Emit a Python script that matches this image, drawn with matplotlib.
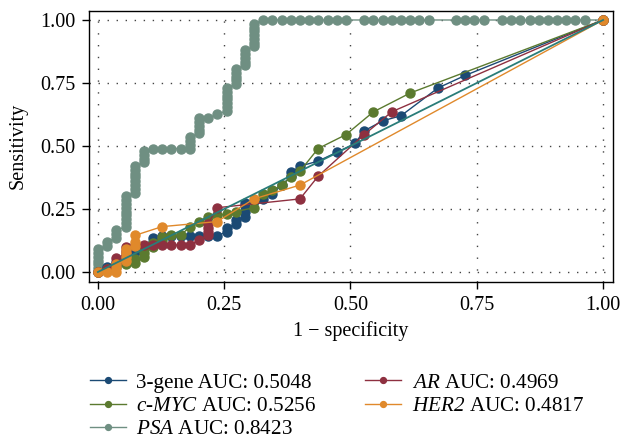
import numpy as np
import matplotlib
matplotlib.use("Agg")
import matplotlib.pyplot as plt

plt.rcParams['font.family'] = ['Liberation Serif', 'DejaVu Serif']
plt.rcParams['mathtext.fontset'] = 'custom'
plt.rcParams['mathtext.rm'] = 'Liberation Serif:italic'
plt.rcParams['mathtext.it'] = 'Liberation Serif:italic'

# ROC points (1 - specificity, sensitivity)
gene3_fpr = [0, 0.018, 0.036, 0.055, 0.073, 0.091, 0.109, 0.109, 0.127, 0.145, 0.164, 0.182,
             0.200, 0.218, 0.236, 0.255, 0.255, 0.273, 0.273, 0.291, 0.291, 0.291, 0.291,
             0.309, 0.327, 0.345, 0.364, 0.382, 0.382, 0.400, 0.436, 0.473, 0.509, 0.527,
             0.564, 0.600, 0.673, 0.727, 1.0]
gene3_tpr = [0, 0.02, 0.04, 0.06, 0.08, 0.10, 0.12, 0.135, 0.143, 0.143, 0.143, 0.143,
             0.143, 0.143, 0.143, 0.16, 0.175, 0.19, 0.205, 0.22, 0.24, 0.26, 0.275,
             0.28, 0.29, 0.31, 0.345, 0.38, 0.395, 0.42, 0.44, 0.475, 0.51, 0.56,
             0.60, 0.62, 0.73, 0.78, 1.0]

myc_fpr = [0, 0.018, 0.036, 0.055, 0.073, 0.073, 0.091, 0.091, 0.091, 0.109, 0.109,
           0.127, 0.127, 0.145, 0.164, 0.182, 0.200, 0.218, 0.236, 0.255, 0.273, 0.309,
           0.327, 0.345, 0.364, 0.382, 0.400, 0.436, 0.491, 0.545, 0.618, 1.0]
myc_tpr = [0, 0.01, 0.02, 0.03, 0.035, 0.05, 0.06, 0.075, 0.09, 0.10, 0.115,
           0.125, 0.14, 0.145, 0.145, 0.18, 0.20, 0.22, 0.225, 0.23, 0.24, 0.255,
           0.31, 0.325, 0.345, 0.375, 0.40, 0.49, 0.545, 0.635, 0.71, 1.0]

psa_fpr = [0, 0, 0, 0, 0, 0, 0,
           0.018, 0.018,
           0.036, 0.036, 0.036,
           0.055, 0.055, 0.055, 0.055, 0.055, 0.055, 0.055, 0.055, 0.055,
           0.073, 0.073, 0.073, 0.073, 0.073, 0.073, 0.073, 0.073,
           0.091, 0.091, 0.091, 0.091,
           0.109, 0.127, 0.145, 0.164,
           0.182, 0.182, 0.182, 0.182,
           0.200, 0.200, 0.200, 0.200, 0.200,
           0.218, 0.236,
           0.255, 0.255, 0.255, 0.255, 0.255, 0.255, 0.255,
           0.273, 0.273, 0.273, 0.273, 0.273,
           0.291, 0.291, 0.291, 0.291, 0.291,
           0.309, 0.309, 0.309, 0.309, 0.309, 0.309, 0.309,
           0.327, 0.345, 0.364, 0.382, 0.400, 0.418, 0.436, 0.455, 0.473, 0.491,
           0.527, 0.545, 0.564, 0.582, 0.600, 0.618, 0.636, 0.655,
           0.709, 0.727, 0.745, 0.764,
           0.800, 0.818, 0.836, 0.855, 0.873, 0.891, 0.909, 0.927, 0.945, 0.964,
           1.0]
psa_tpr = [0, 0.015, 0.03, 0.045, 0.06, 0.075, 0.09,
           0.105, 0.12,
           0.135, 0.15, 0.165,
           0.18, 0.195, 0.21, 0.225, 0.24, 0.255, 0.27, 0.285, 0.30,
           0.315, 0.33, 0.345, 0.36, 0.375, 0.39, 0.405, 0.42,
           0.435, 0.45, 0.465, 0.48,
           0.49, 0.49, 0.49, 0.49,
           0.49, 0.505, 0.52, 0.535,
           0.55, 0.565, 0.58, 0.595, 0.61,
           0.61, 0.625,
           0.64, 0.655, 0.67, 0.685, 0.70, 0.715, 0.73,
           0.745, 0.76, 0.775, 0.79, 0.805,
           0.82, 0.835, 0.85, 0.865, 0.88,
           0.895, 0.91, 0.925, 0.94, 0.955, 0.97, 0.985,
           1.0, 1.0, 1.0, 1.0, 1.0, 1.0, 1.0, 1.0, 1.0, 1.0,
           1.0, 1.0, 1.0, 1.0, 1.0, 1.0, 1.0, 1.0,
           1.0, 1.0, 1.0, 1.0,
           1.0, 1.0, 1.0, 1.0, 1.0, 1.0, 1.0, 1.0, 1.0, 1.0,
           1.0]

ar_fpr = [0, 0.018, 0.036, 0.036, 0.055, 0.055, 0.055, 0.073, 0.091, 0.109, 0.127, 0.145,
          0.164, 0.182, 0.200, 0.218, 0.218, 0.218, 0.218, 0.236, 0.400, 0.436, 0.527,
          0.582, 1.0]
ar_tpr = [0, 0.01, 0.03, 0.055, 0.07, 0.085, 0.10, 0.107, 0.107, 0.107, 0.107, 0.107,
          0.107, 0.107, 0.127, 0.145, 0.16, 0.175, 0.19, 0.255, 0.29, 0.38, 0.545,
          0.636, 1.0]

her2_fpr = [0, 0.018, 0.036, 0.036, 0.036, 0.055, 0.055, 0.055, 0.055, 0.073, 0.073, 0.073,
            0.127, 0.236, 0.309, 0.400, 1.0]
her2_tpr = [0, 0, 0, 0.015, 0.03, 0.045, 0.06, 0.075, 0.09, 0.105, 0.12, 0.145,
            0.18, 0.20, 0.29, 0.345, 1.0]

labels = ["3-gene AUC: 0.5048",
          r"$\mathit{c}$-$\mathit{MYC}$ AUC: 0.5256",
          r"$\mathit{PSA}$ AUC: 0.8423",
          r"$\mathit{AR}$ AUC: 0.4969",
          r"$\mathit{HER2}$ AUC: 0.4817"]
colors = ["#1b4a74", "#5b7a2f", "#6f8f82", "#8e3040", "#e0892b"]
diag_color = "#2a7d79"

fig = plt.figure(figsize=(6.22, 4.45), dpi=100)
ax = fig.add_axes([0.1436, 0.367, 0.8414, 0.6083])

series = [(gene3_fpr, gene3_tpr), (myc_fpr, myc_tpr), (psa_fpr, psa_tpr),
          (ar_fpr, ar_tpr), (her2_fpr, her2_tpr)]
zorders = [3, 4, 2, 5, 6]
handles = []
for (fx, ty), lab, c, z in zip(series, labels, colors, zorders):
    h, = ax.plot(fx, ty, color=c, lw=1.0, marker='o', ms=6.5, mec=c, mfc=c,
                 label=lab, zorder=z)
    handles.append(h)

# reference diagonal
ax.plot([0, 1], [0, 1], color=diag_color, lw=1.3, zorder=7)

ax.set_xlim(-0.017, 1.019)
ax.set_ylim(-0.0385, 1.0357)
ticks = [0, 0.25, 0.5, 0.75, 1.0]
ax.set_xticks(ticks)
ax.set_yticks(ticks)
ax.set_xticklabels(['%.2f' % t for t in ticks])
ax.set_yticklabels(['%.2f' % t for t in ticks])
ax.tick_params(labelsize=14.5, length=5, width=1, direction='out', pad=5,
               top=False, right=False)

for s in ax.spines.values():
    s.set_linewidth(1.0)
    s.set_color('black')

for t in ticks:
    ax.axvline(t, color='#444444', lw=1.0, ls=(0, (1, 7.5)), zorder=1)
    ax.axhline(t, color='#444444', lw=1.0, ls=(0, (1, 5.5)), zorder=1)

ax.set_xlabel("1 \u2212 specificity", fontsize=14.5, labelpad=5)
ax.set_ylabel("Sensitivity", fontsize=14.5, labelpad=9)

fig.legend(handles, labels, loc='upper left', bbox_to_anchor=(0.1447, 0.162),
           ncol=2, frameon=False, fontsize=15.2, handlelength=1.7,
           handletextpad=0.5, columnspacing=2.3, labelspacing=0.17,
           borderpad=0, borderaxespad=0, markerscale=0.65, numpoints=1)

fig.savefig("out.png", dpi=100)
